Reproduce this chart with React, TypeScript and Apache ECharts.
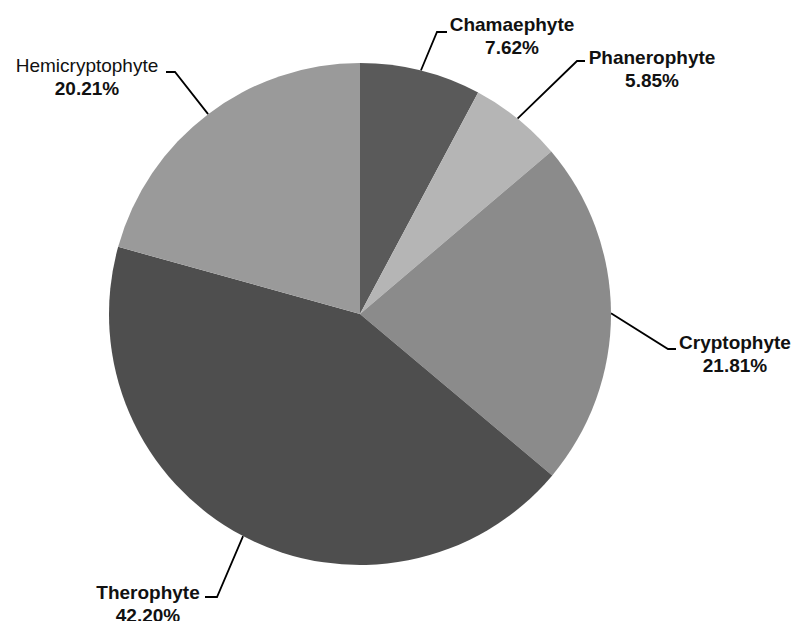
import React, { useEffect, useRef } from 'react';
import * as echarts from 'echarts';

const categories = ['Chamaephyte', 'Phanerophyte', 'Cryptophyte', 'Therophyte', 'Hemicryptophyte'];
const percentages = [7.62, 5.85, 21.81, 42.2, 20.21];
const sliceColors = ['#5a5a5a', '#b5b5b5', '#8b8b8b', '#4e4e4e', '#9a9a9a'];
const nameWeights = ['bold', 'bold', 'bold', 'bold', 'normal'];

// label layout (pixel placement of text blocks and leader-line elbows)
const labelSpots = [
  { x: 512, y: 13, ex: 437, ey: 32, tx: 447 },
  { x: 652, y: 46, ex: 577, ey: 61, tx: 585 },
  { x: 735, y: 331, ex: 668, ey: 349, tx: 676 },
  { x: 148, y: 581, ex: 217, ey: 597, tx: 205 },
  { x: 87, y: 54, ex: 175, ey: 72, tx: 166 },
];

export default function App() {
  const ref = useRef<HTMLDivElement>(null);
  useEffect(() => {
    if (!ref.current) return;
    const chart = echarts.init(ref.current, undefined, { renderer: 'svg' });
    const font = '"Liberation Sans", Arial, sans-serif';
    chart.setOption({
      animation: false,
      backgroundColor: '#ffffff',
      series: [
        {
          type: 'pie',
          center: [360, 314],
          radius: 251,
          startAngle: 90,
          clockwise: true,
          avoidLabelOverlap: false,
          emphasis: { disabled: true },
          data: categories.map((name, i) => ({
            name,
            value: percentages[i],
            itemStyle: { color: sliceColors[i] },
          })),
          label: {
            show: true,
            position: 'outside',
            fontFamily: font,
            color: '#111',
            formatter: (p: any) => {
              const key = nameWeights[p.dataIndex] === 'bold' ? 'n' : 'h';
              return `{${key}|${p.name}}\n{p|${Number(p.value).toFixed(2)}%}`;
            },
            rich: {
              n: { fontFamily: font, fontSize: 19, fontWeight: 'bold', color: '#111', lineHeight: 23, align: 'center' },
              h: { fontFamily: font, fontSize: 19, fontWeight: 'normal', color: '#111', lineHeight: 23, align: 'center' },
              p: { fontFamily: font, fontSize: 19, fontWeight: 'bold', color: '#111', lineHeight: 23, align: 'center' },
            },
          },
          labelLine: {
            show: true,
            length: 20,
            length2: 10,
            lineStyle: { color: '#000', width: 1.8 },
          },
          labelLayout: (params: any) => {
            const s = labelSpots[params.dataIndex];
            const pts = params.labelLinePoints;
            const start = pts && pts[0] ? pts[0] : [s.ex, s.ey];
            return {
              x: s.x,
              y: s.y,
              align: 'center',
              verticalAlign: 'top',
              labelLinePoints: [start, [s.ex, s.ey], [s.tx, s.ey]],
            };
          },
        },
      ],
    });
    return () => chart.dispose();
  }, []);
  return (
    <div
      ref={ref}
      style={{ position: 'fixed', left: 0, top: 0, width: 794, height: 621 }}
    />
  );
}
